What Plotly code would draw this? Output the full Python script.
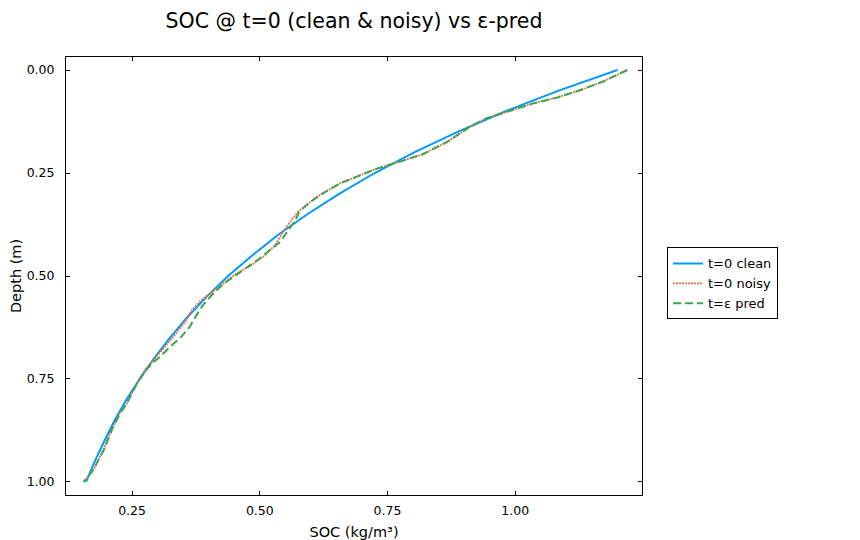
import plotly.graph_objects as go

# ---- data ----
depth_clean = [0.00, 0.05, 0.10, 0.15, 0.20, 0.25, 0.30, 0.35, 0.40, 0.45, 0.50,
               0.55, 0.60, 0.65, 0.70, 0.75, 0.80, 0.85, 0.90, 0.95, 1.00]
soc_clean = [1.200, 1.085, 0.981, 0.887, 0.802, 0.725, 0.656, 0.593, 0.536, 0.485, 0.438,
             0.396, 0.358, 0.324, 0.293, 0.265, 0.239, 0.216, 0.196, 0.177, 0.160]

depth_noisy = [0.000, 0.028, 0.049, 0.067, 0.081, 0.091, 0.101, 0.117, 0.137, 0.155,
               0.175, 0.205, 0.223, 0.240, 0.275, 0.304, 0.324, 0.344, 0.364, 0.392,
               0.425, 0.453, 0.475, 0.493, 0.518, 0.542, 0.558, 0.583, 0.611, 0.647,
               0.684, 0.727, 0.760, 0.809, 0.833, 0.862, 0.890, 0.922, 0.947, 0.971, 1.000]
soc_noisy = [1.219, 1.172, 1.127, 1.081, 1.035, 1.009, 0.983, 0.944, 0.912, 0.890,
             0.866, 0.818, 0.774, 0.728, 0.657, 0.617, 0.595, 0.575, 0.562, 0.546,
             0.530, 0.507, 0.482, 0.455, 0.429, 0.403, 0.386, 0.367, 0.354, 0.331,
             0.305, 0.276, 0.259, 0.240, 0.226, 0.214, 0.204, 0.194, 0.184, 0.174, 0.155]

depth_pred = [0.000, 0.028, 0.049, 0.067, 0.081, 0.091, 0.101, 0.117, 0.137, 0.155,
              0.175, 0.205, 0.223, 0.240, 0.275, 0.304, 0.324, 0.344, 0.364, 0.384,
              0.417, 0.437, 0.457, 0.493, 0.518, 0.542, 0.570, 0.595, 0.623, 0.651,
              0.672, 0.696, 0.708, 0.727, 0.760, 0.809, 0.833, 0.862, 0.890, 0.922,
              0.947, 0.971, 1.000]
soc_pred = [1.219, 1.172, 1.127, 1.081, 1.035, 1.009, 0.983, 0.944, 0.912, 0.890,
            0.866, 0.818, 0.774, 0.728, 0.657, 0.617, 0.595, 0.577, 0.570, 0.559,
            0.540, 0.520, 0.500, 0.459, 0.430, 0.409, 0.389, 0.376, 0.363, 0.344,
            0.324, 0.305, 0.293, 0.278, 0.260, 0.240, 0.227, 0.214, 0.205, 0.195,
            0.184, 0.174, 0.155]

x_ticks = [0.25, 0.50, 0.75, 1.00]
x_tick_labels = ["0.25", "0.50", "0.75", "1.00"]
y_ticks = [0.00, 0.25, 0.50, 0.75, 1.00]
y_tick_labels = ["0.00", "0.25", "0.50", "0.75", "1.00"]

FONT = "DejaVu Sans"

fig = go.Figure()
fig.add_trace(go.Scatter(x=soc_clean, y=depth_clean, mode="lines", name="t=0 clean",
                         line=dict(color="#009AFA", width=2)))
fig.add_trace(go.Scatter(x=soc_noisy, y=depth_noisy, mode="lines", name="t=0 noisy",
                         line=dict(color="#E36F47", width=1.8, dash="2px,1px")))
fig.add_trace(go.Scatter(x=soc_pred, y=depth_pred, mode="lines", name="t=ε pred",
                         line=dict(color="#3EA44E", width=2, dash="8px,4px")))

axis_common = dict(
    showgrid=False, zeroline=False, showline=True, mirror="ticks",
    linecolor="black", linewidth=1, ticks="inside", ticklen=4, tickwidth=1,
    tickcolor="black", tickfont=dict(family=FONT, size=12.5, color="black"),
    automargin=False,
)

fig.update_layout(
    width=860, height=540,
    margin=dict(l=58, r=226, t=49, b=53),
    paper_bgcolor="white", plot_bgcolor="white",
    font=dict(family=FONT, color="black"),
    title=dict(text="SOC @ t=0 (clean & noisy) vs ε-pred",
               x=0.5, xref="paper", xanchor="center",
               y=1 - 13 / 540, yref="container", yanchor="middle",
               font=dict(family=FONT, size=20.5, color="black")),
    xaxis=dict(range=[0.1207, 1.248], tickvals=x_ticks, ticktext=x_tick_labels,
               ticklabelstandoff=4,
               title=dict(text="SOC (kg/m³)", font=dict(family=FONT, size=14.5), standoff=9),
               **axis_common),
    yaxis=dict(range=[1.0316, -0.0316], tickvals=y_ticks, ticktext=y_tick_labels,
               ticklabelstandoff=8,
               title=dict(text="Depth (m)", font=dict(family=FONT, size=14.5), standoff=6),
               **axis_common),
    legend=dict(x=1.0434, xanchor="left", y=0.483, yanchor="middle",
                bordercolor="black", borderwidth=1, bgcolor="white",
                font=dict(family=FONT, size=13, color="black"),
                tracegroupgap=0),
    showlegend=True,
)

fig.write_html("out.html")
